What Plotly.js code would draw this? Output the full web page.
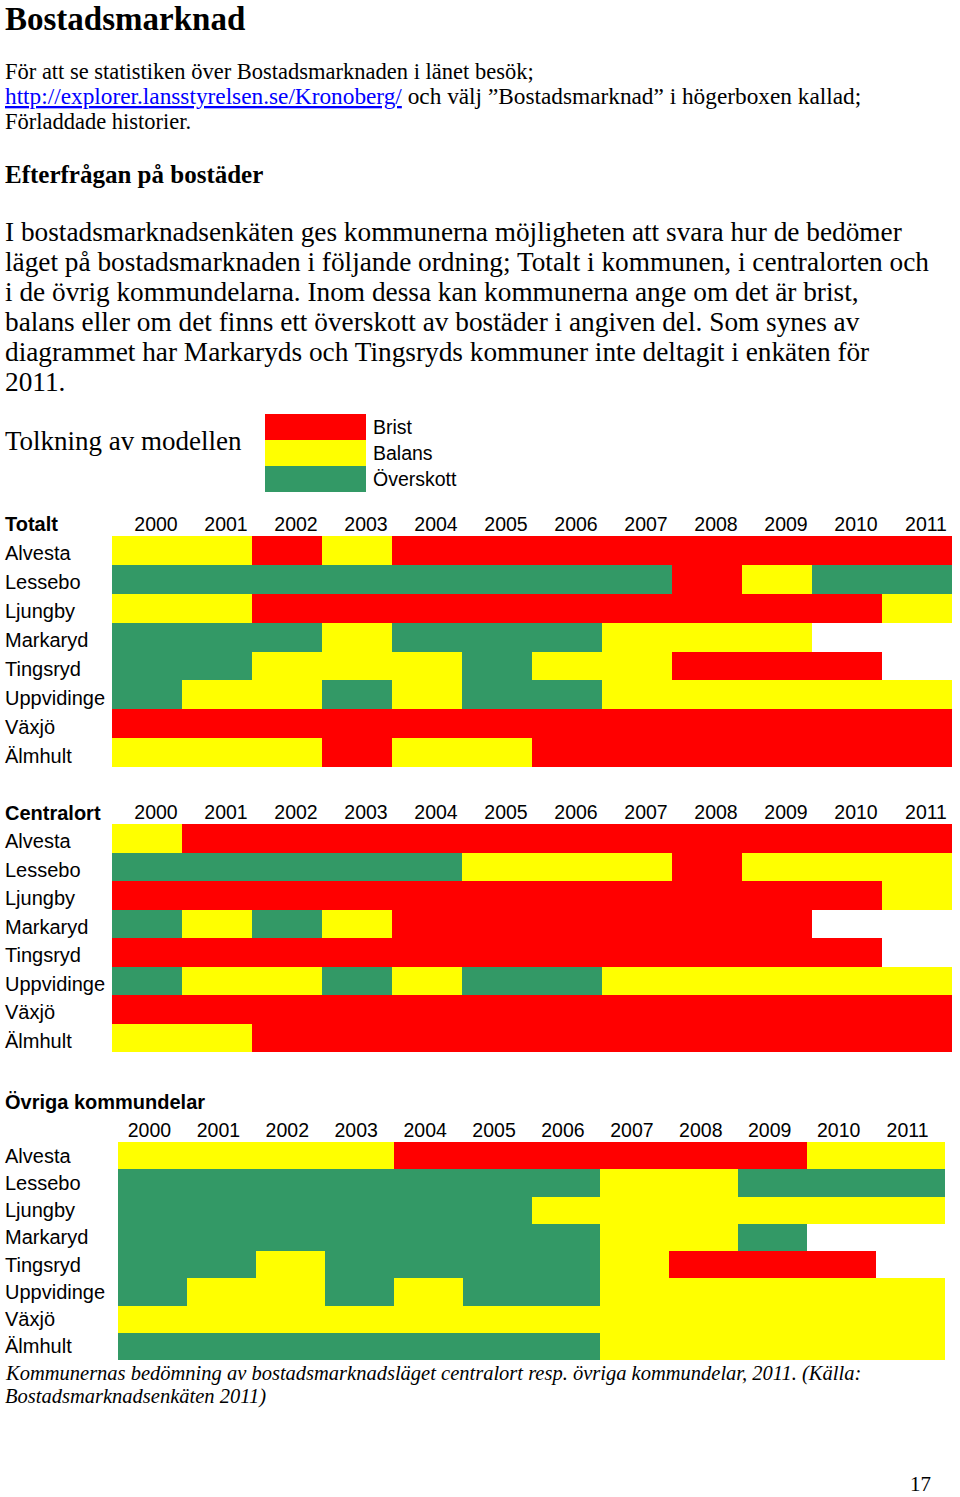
<!DOCTYPE html>
<html><head><meta charset="utf-8">
<script src="https://cdn.plot.ly/plotly-3.0.1.min.js"></script>
<style>html,body{margin:0;padding:0;background:#fff}</style>
</head><body><div id="chart" style="width:960px;height:1497px"></div>
<script>
// ---------- data ----------
const years = ['2000','2001','2002','2003','2004','2005','2006','2007','2008','2009','2010','2011'];
const kommuner = ['Alvesta','Lessebo','Ljungby','Markaryd','Tingsryd','Uppvidinge','Växjö','Älmhult'];
const statusLabels = ['Brist','Balans','Överskott'];
// 0 = Brist, 1 = Balans, 2 = Överskott, null = deltog ej
const totalt = [
  [1,1,0,1,0,0,0,0,0,0,0,0],
  [2,2,2,2,2,2,2,2,0,1,2,2],
  [1,1,0,0,0,0,0,0,0,0,0,1],
  [2,2,2,1,2,2,2,1,1,1,null,null],
  [2,2,1,1,1,2,1,1,0,0,0,null],
  [2,1,1,2,1,2,2,1,1,1,1,1],
  [0,0,0,0,0,0,0,0,0,0,0,0],
  [1,1,1,0,1,1,0,0,0,0,0,0]
];
const centralort = [
  [1,0,0,0,0,0,0,0,0,0,0,0],
  [2,2,2,2,2,1,1,1,0,1,1,1],
  [0,0,0,0,0,0,0,0,0,0,0,1],
  [2,1,2,1,0,0,0,0,0,0,null,null],
  [0,0,0,0,0,0,0,0,0,0,0,null],
  [2,1,1,2,1,2,2,1,1,1,1,1],
  [0,0,0,0,0,0,0,0,0,0,0,0],
  [1,1,0,0,0,0,0,0,0,0,0,0]
];
const ovriga = [
  [1,1,1,1,0,0,0,0,0,0,1,1],
  [2,2,2,2,2,2,2,1,1,2,2,2],
  [2,2,2,2,2,2,1,1,1,1,1,1],
  [2,2,2,2,2,2,2,1,1,2,null,null],
  [2,2,1,2,2,2,2,1,0,0,0,null],
  [2,1,1,2,1,2,2,1,1,1,1,1],
  [1,1,1,1,1,1,1,1,1,1,1,1],
  [2,2,2,2,2,2,2,1,1,1,1,1]
];
const statusColors = ['#ff0000','#ffff00','#339966'];

// ---------- layout helpers ----------
const W = 960, H = 1497;
const px = v => v / W;
const py = v => 1 - v / H;
const SANS = 'Liberation Sans, Arial, sans-serif';
const SERIF = 'Liberation Serif, Times New Roman, serif';
const colorscale = [[0, statusColors[0]], [0.5, statusColors[1]], [1, statusColors[2]]];

function heat(x, y, z, xa, ya) {
  return {type:'heatmap', x, y, z, xaxis:xa, yaxis:ya, zmin:0, zmax:2,
          colorscale, showscale:false, hoverongaps:false, xgap:0, ygap:0};
}
const data = [
  heat(['Tolkning'], statusLabels, statusLabels.map((s,i)=>[i]), 'x', 'y'),
  heat(years, kommuner, totalt, 'x2', 'y2'),
  heat(years, kommuner, centralort, 'x3', 'y3'),
  heat(years, kommuner, ovriga, 'x4', 'y4')
];

function xAx(l, r, anchor, shift) {
  return {domain:[px(l), px(r)], anchor, side:'top', type:'category', ticks:'',
          showgrid:false, zeroline:false, showline:false, fixedrange:true,
          ticklabelshift:shift, tickfont:{family:SANS, size:19.5, color:'#000'}};
}
function yAx(t, b, shift) {
  return {domain:[py(b), py(t)], anchor:'free', position:px(1), side:'left',
          ticklabelposition:'inside', type:'category', autorange:'reversed', ticks:'',
          showgrid:false, zeroline:false, showline:false, fixedrange:true,
          ticklabelshift:shift,
          tickfont:{family:SANS, size:20, color:'#000'}};
}

function txt(text, x, y, size, family, extra) {
  return Object.assign({text, xref:'paper', yref:'paper', x:px(x), y:py(y),
    xanchor:'left', yanchor:'middle', showarrow:false,
    font:{family, size, color:'#000'}}, extra || {});
}

const paragraph = [
  'I bostadsmarknadsenkäten ges kommunerna möjligheten att svara hur de bedömer',
  'läget på bostadsmarknaden i följande ordning; Totalt i kommunen, i centralorten och',
  'i de övrig kommundelarna. Inom dessa kan kommunerna ange om det är brist,',
  'balans eller om det finns ett överskott av bostäder i angiven del. Som synes av',
  'diagrammet har Markaryds och Tingsryds kommuner inte deltagit i enkäten för',
  '2011.'
];

const annotations = [
  txt('<b>Bostadsmarknad</b>', 3, 19, 33, SERIF),
  txt('För att se statistiken över Bostadsmarknaden i länet besök;', 3, 71, 22.5, SERIF),
  txt('<a href="http://explorer.lansstyrelsen.se/Kronoberg/" style="color:#0000ff;text-decoration:underline">http://explorer.lansstyrelsen.se/Kronoberg/</a> och välj ”Bostadsmarknad” i högerboxen kallad;', 3, 96, 23.3, SERIF),
  txt('Förladdade historier.', 3, 121, 22.5, SERIF),
  txt('<b>Efterfrågan på bostäder</b>', 3, 174, 25, SERIF),
  ...paragraph.map((t,i) => txt(t, 3, 232 + 30*i, 27.3, SERIF)),
  txt('Tolkning av modellen', 3, 441, 27, SERIF),
  txt('<b>Totalt</b>', 3, 524, 20, SANS),
  txt('<b>Centralort</b>', 3, 813, 20, SANS),
  txt('<b>Övriga kommundelar</b>', 3, 1102, 20, SANS),
  txt('<i>Kommunernas bedömning av bostadsmarknadsläget centralort resp. övriga kommundelar, 2011. (Källa:</i>', 3, 1373, 20.5, SERIF),
  txt('<i>Bostadsmarknadsenkäten 2011)</i>', 3, 1396, 20.5, SERIF),
  txt('17', 908, 1484, 21, SERIF)
];

const layout = {
  width:W, height:H, margin:{l:0, r:0, t:0, b:0},
  paper_bgcolor:'#fff', plot_bgcolor:'#fff', showlegend:false,
  xaxis:{domain:[px(265), px(366)], anchor:'y', visible:false, fixedrange:true},
  yaxis:{domain:[py(492), py(414)], anchor:'x', side:'right', type:'category',
         autorange:'reversed', ticks:'', showgrid:false, zeroline:false, showline:false,
         ticklabelstandoff:6,
         fixedrange:true, tickfont:{family:SANS, size:19.5, color:'#000'}},
  xaxis2: xAx(112, 952, 'y2', 9),
  yaxis2: yAx(536, 767, -3),
  xaxis3: xAx(112, 952, 'y3', 9),
  yaxis3: yAx(824, 1052, -3),
  xaxis4: xAx(118, 945, 'y4', -3),
  yaxis4: yAx(1142, 1360, 0),
  annotations
};

Plotly.newPlot('chart', data, layout, {staticPlot:true, displayModeBar:false});
</script></body></html>
